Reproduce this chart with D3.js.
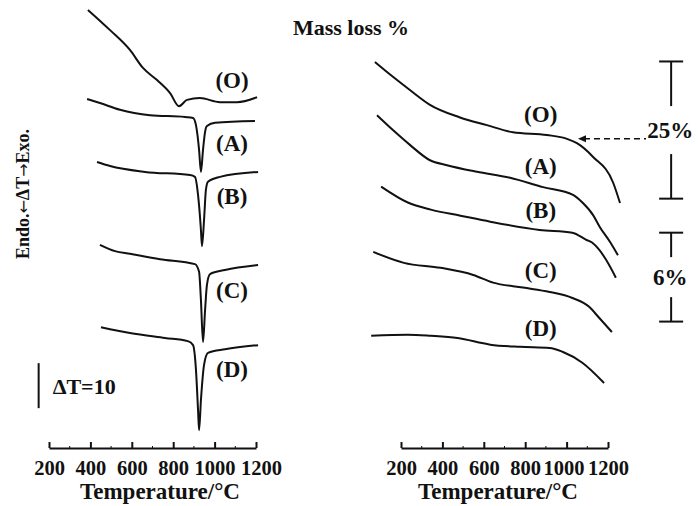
<!DOCTYPE html>
<html>
<head>
<meta charset="utf-8">
<script src="https://cdn.jsdelivr.net/npm/d3@7"></script>
<style>
  body { margin: 0; background: #fff; }
  text { font-family: "Liberation Serif", "DejaVu Serif", serif; font-weight: bold; fill: #111; }
</style>
</head>
<body>
<div id="chart"></div>
<script>
// temperature ticks shared by both panels
const tickTemps = [200, 400, 600, 800, 1000, 1200];

// DTA curves: [temperature °C, signal (ΔT units, stacked)]
const dtaO = [[388, 97.8], [495, 93.3], [591, 88.9], [654, 84.9], [722, 82.2], [785, 79.3], [828, 76.4],
  [867, 77.8], [929, 78.2], [1026, 77.3], [1108, 77.3], [1205, 78.4]];
const dtaA = [[384, 78.0], [446, 77.1], [543, 75.6], [688, 74.4], [857, 74.0], [896, 73.8], [910, 72.2],
  [925, 66.7], [934, 61.8], [944, 66.7], [954, 70.7], [963, 72.0], [1002, 72.7], [1195, 73.1]];
const dtaB = [[432, 64.0], [495, 63.1], [664, 61.8], [881, 61.1], [905, 60.7], [920, 56.7], [934, 48.9],
  [939, 45.3], [949, 51.1], [958, 57.8], [968, 59.6], [1026, 60.7], [1210, 61.8]];
const dtaC = [[446, 45.6], [519, 44.2], [591, 43.6], [736, 42.4], [905, 41.3], [925, 39.6], [934, 33.3],
  [944, 24.0], [954, 31.1], [963, 36.7], [978, 39.1], [1050, 40.0], [1210, 41.1]];
const dtaD = [[451, 27.3], [591, 26.0], [760, 24.9], [871, 24.2], [896, 23.3], [910, 17.8], [920, 8.9],
  [925, 4.4], [934, 11.1], [949, 18.9], [968, 21.6], [1050, 22.4], [1210, 23.3]];

// TG curves: [temperature °C, mass (%, stacked)]
const tgO = [[74, 70.7], [161, 68.0], [243, 65.6], [340, 62.9], [485, 60.6], [615, 59.2], [741, 57.9],
  [905, 57.4], [1002, 56.7], [1050, 55.9], [1128, 53.4], [1225, 48.7], [1258, 45.0]];
const tgA = [[84, 61.0], [161, 58.3], [243, 55.6], [340, 52.8], [422, 51.9], [567, 50.7], [727, 49.6],
  [886, 47.9], [1031, 46.5], [1079, 45.0], [1128, 42.8], [1161, 40.6], [1210, 37.9], [1248, 35.5]];
const tgB = [[104, 48.0], [233, 45.1], [344, 43.8], [487, 42.7], [631, 41.6], [870, 40.1], [1028, 39.6],
  [1095, 38.3], [1123, 37.8], [1157, 36.5], [1190, 34.7], [1238, 31.4]];
const tgC = [[66, 36.1], [214, 34.1], [391, 33.2], [549, 31.9], [645, 30.5], [789, 29.6], [918, 28.8],
  [1028, 27.7], [1109, 26.1], [1157, 24.1], [1219, 21.5]];
const tgD = [[56, 20.8], [233, 21.0], [344, 20.8], [473, 20.4], [631, 19.2], [775, 18.8], [918, 18.6],
  [980, 17.9], [1076, 15.9], [1181, 12.2]];

const curveNames = ["(O)", "(A)", "(B)", "(C)", "(D)"];
const dtaCurves = [dtaO, dtaA, dtaB, dtaC, dtaD];
const tgCurves = [tgO, tgA, tgB, tgC, tgD];

// scale bars
const dtaBar = [9.3, 19.3];       // ΔT=10
const tgBar25 = [45.8, 70.8];     // 25%
const tgBar6 = [23.4, 39.6];      // 6%
const arrowLevel = 56.7;          // dashed arrow to the (O) TG curve

const width = 698, height = 506;
const svg = d3.select("#chart").append("svg")
  .attr("width", width).attr("height", height);

// scales
const xL = d3.scaleLinear().domain([200, 1200]).range([49, 256]);
const yL = d3.scaleLinear().domain([0, 100]).range([450, 0]);
const xR = d3.scaleLinear().domain([200, 1200]).range([401, 608]);
const yR = d3.scaleLinear().domain([0, 82]).range([450, 0]);

const lineL = d3.line().x(d => xL(d[0])).y(d => yL(d[1])).curve(d3.curveMonotoneX);
const lineR = d3.line().x(d => xR(d[0])).y(d => yR(d[1])).curve(d3.curveMonotoneX);

// value of a curve at temperature t
function valueAt(pts, t) {
  const i = d3.bisector(d => d[0]).left(pts, t);
  if (i <= 0) return pts[0][1];
  if (i >= pts.length) return pts[pts.length - 1][1];
  const a = pts[i - 1], b = pts[i];
  return a[1] + (b[1] - a[1]) * (t - a[0]) / (b[0] - a[0]);
}

// curves
svg.append("g").selectAll("path")
  .data(dtaCurves)
  .join("path")
  .attr("d", lineL)
  .attr("fill", "none").attr("stroke", "#111").attr("stroke-width", 2);

svg.append("g").selectAll("path")
  .data(tgCurves)
  .join("path")
  .attr("d", lineR)
  .attr("fill", "none").attr("stroke", "#111").attr("stroke-width", 2);

// curve labels
svg.append("g").selectAll("text")
  .data(dtaCurves)
  .join("text")
  .attr("x", xL(1084))
  .attr("y", (d, i) => yL(valueAt(d, 1084)) + (i === 0 ? -22 : 21) + 8)
  .attr("text-anchor", "middle")
  .attr("font-size", 23)
  .text((d, i) => curveNames[i]);

svg.append("g").selectAll("text")
  .data(tgCurves)
  .join("text")
  .attr("x", xR(875))
  .attr("y", d => yR(valueAt(d, 875)) - 20 + 8)
  .attr("text-anchor", "middle")
  .attr("font-size", 23)
  .text((d, i) => curveNames[i]);

// axes; nudge holds small label shifts seen in the original print
function drawAxis(x, label, labelX, nudge) {
  const g = svg.append("g")
    .attr("transform", "translate(0,448)")
    .call(d3.axisBottom(x).tickValues(tickTemps).tickFormat(d3.format("d"))
      .tickSize(-6).tickSizeOuter(0).tickPadding(12));
  g.select(".domain").attr("stroke", "#111").attr("stroke-width", 2);
  g.selectAll(".tick line").attr("stroke", "#111").attr("stroke-width", 2);
  g.selectAll(".tick text")
    .attr("font-size", 20.5).attr("font-family", "Liberation Serif").attr("font-weight", "bold")
    .attr("fill", "#111")
    .attr("dx", d => nudge[d] || 0);
  // minor ticks
  g.selectAll(".minor")
    .data(d3.range(300, 1200, 200))
    .join("line")
    .attr("x1", d => x(d)).attr("x2", d => x(d))
    .attr("y1", 0).attr("y2", -2)
    .attr("stroke", "#111").attr("stroke-width", 1);
  svg.append("text")
    .attr("x", labelX).attr("y", 499)
    .attr("text-anchor", "middle")
    .attr("font-size", 23)
    .text(label);
}
drawAxis(xL, "Temperature/°C", 160, {1200: 5});
drawAxis(xR, "Temperature/°C", 498, {1000: -3});

// titles
svg.append("text")
  .attr("x", 351).attr("y", 35)
  .attr("text-anchor", "middle")
  .attr("font-size", 22)
  .text("Mass loss %");

const yLabel = svg.append("text")
  .attr("transform", "translate(29,194) rotate(-90)")
  .attr("text-anchor", "middle")
  .attr("font-size", 18);
yLabel.append("tspan").text("Endo.");
yLabel.append("tspan").attr("font-family", "DejaVu Sans").attr("font-weight", "normal")
  .attr("font-size", 16).text("←");
yLabel.append("tspan").text("ΔT");
yLabel.append("tspan").attr("font-family", "DejaVu Sans").attr("font-weight", "normal")
  .attr("font-size", 16).text("→");
yLabel.append("tspan").text("Exo.");

// ΔT scale bar
svg.append("line")
  .attr("x1", xL(150)).attr("x2", xL(150))
  .attr("y1", yL(dtaBar[0])).attr("y2", yL(dtaBar[1]))
  .attr("stroke", "#111").attr("stroke-width", 2);
svg.append("text")
  .attr("x", xL(150) + 14).attr("y", yL((dtaBar[0] + dtaBar[1]) / 2) + 8)
  .attr("font-size", 22)
  .text("ΔT=10");

// mass-loss scale bars, split around their labels
function drawBar(range, label, gap) {
  const x = xR(1505);
  const top = yR(range[1]), bottom = yR(range[0]);
  const mid = (top + bottom) / 2;
  const g = svg.append("g").attr("stroke", "#111").attr("stroke-width", 2);
  g.append("line").attr("x1", x - 12).attr("x2", x + 12).attr("y1", top).attr("y2", top);
  g.append("line").attr("x1", x - 12).attr("x2", x + 12).attr("y1", bottom).attr("y2", bottom);
  g.append("line").attr("x1", x).attr("x2", x).attr("y1", top).attr("y2", mid - gap);
  g.append("line").attr("x1", x).attr("x2", x).attr("y1", mid + gap).attr("y2", bottom);
  svg.append("text")
    .attr("x", x - 1).attr("y", mid + 8)
    .attr("text-anchor", "middle")
    .attr("font-size", 23)
    .text(label);
  return mid;
}
drawBar(tgBar25, "25%", 24);
drawBar(tgBar6, "6%", 20);

// dashed arrow pointing at the (O) curve
const ay = yR(arrowLevel);
svg.append("line")
  .attr("x1", xR(1055) + 6).attr("x2", 646)
  .attr("y1", ay).attr("y2", ay)
  .attr("stroke", "#111").attr("stroke-width", 1.5)
  .attr("stroke-dasharray", "6,4");
svg.append("path")
  .attr("d", `M${xR(1055)},${ay}l8,-3.5l0,7z`)
  .attr("fill", "#111");
</script>
</body>
</html>
